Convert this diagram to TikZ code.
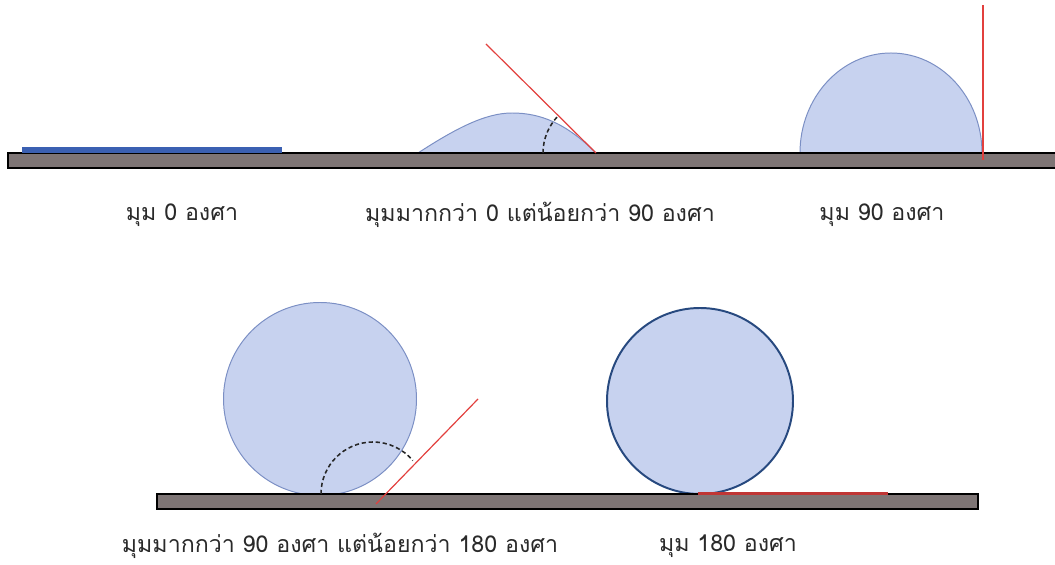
\documentclass[tikz,border=0pt]{standalone}
\usepackage{fontspec}
\newfontfamily\thaifont[Script=Thai]{Loma}
\usepackage{xcolor}
\usepackage{tikz}
\usetikzlibrary{positioning,calc}
\definecolor{slabgray}{HTML}{7E7575}
\definecolor{filmblue}{HTML}{3B60B2}
\definecolor{dropfill}{HTML}{C7D2EF}
\definecolor{dropedge}{HTML}{7B8FC4}
\definecolor{deepedge}{HTML}{27497F}
\definecolor{tanred}{HTML}{E2403E}
\definecolor{labeltext}{HTML}{2A2A2A}
\tikzset{
  slab/.style={fill=slabgray, draw=black, line width=0.9pt},
  film/.style={fill=filmblue, draw=none},
  droplet/.style={fill=dropfill, draw=dropedge, line width=0.7pt},
  balldrop/.style={fill=dropfill, draw=deepedge, line width=1.4pt},
  tangent/.style={draw=tanred, line width=0.85pt},
  redfilm/.style={draw=tanred!85!black, line width=2pt},
  anglearc/.style={draw=black!85, line width=1.1pt, dash pattern=on 3pt off 2pt},
  caption/.style={text=labeltext, font=\thaifont\fontsize{16.5}{19}\selectfont, inner sep=0pt}
}

\begin{document}
\begin{tikzpicture}[x=0.025cm, y=0.025cm]
  \useasboundingbox (0,0) rectangle (1055,565);

  % top row: 0, between 0 and 90, 90
  \draw[droplet] (418,412) .. controls (455,436) and (485,452) .. (512,452)
    .. controls (540,452) and (566,442) .. (596,412) -- cycle;
  \draw[droplet] (800,412) arc[start angle=180, end angle=0, x radius=91, y radius=100] -- cycle;
  \draw[slab] (8,397) rectangle (1062,412);
  \fill[film] (22,412) rectangle (282,418);

  \coordinate (wetR) at (596,412);
  \coordinate (wetTip) at (486,521);
  \draw[tangent] (wetR) -- (wetTip);
  \draw[anglearc] (543,412) arc[start angle=180, end angle=135, radius=53];

  \coordinate (halfFoot) at (983,405);
  \coordinate (halfTip) at (983,560);
  \draw[tangent] (halfFoot) -- (halfTip);

  \node[caption] (zero) at (182,350) {มุม 0 องศา};
  \node[caption] (acute) at (540,350) {มุมมากกว่า 0 แต่น้อยกว่า 90 องศา};
  \node[caption] (right) at (882,350) {มุม 90 องศา};

  % bottom row: between 90 and 180, 180
  \draw[droplet] (320,166) circle[radius=96.5];
  \draw[balldrop] (700,164) circle[radius=93];
  \draw[slab] (157,56) rectangle (978,71);

  \coordinate (obtFoot) at (376,61);
  \coordinate (obtTip) at (478,166);
  \draw[tangent] (obtFoot) -- (obtTip);
  \draw[anglearc] (321,71) arc[start angle=180, end angle=40, radius=52];

  \coordinate (flatL) at (698,71.5);
  \coordinate (flatR) at (888,71.5);
  \draw[redfilm] (flatL) -- (flatR);

  \node[caption] (obtuse) at (340,19) {มุมมากกว่า 90 องศา แต่น้อยกว่า 180 องศา};
  \node[caption] (straight) at (728,19) {มุม 180 องศา};
\end{tikzpicture}
\end{document}
